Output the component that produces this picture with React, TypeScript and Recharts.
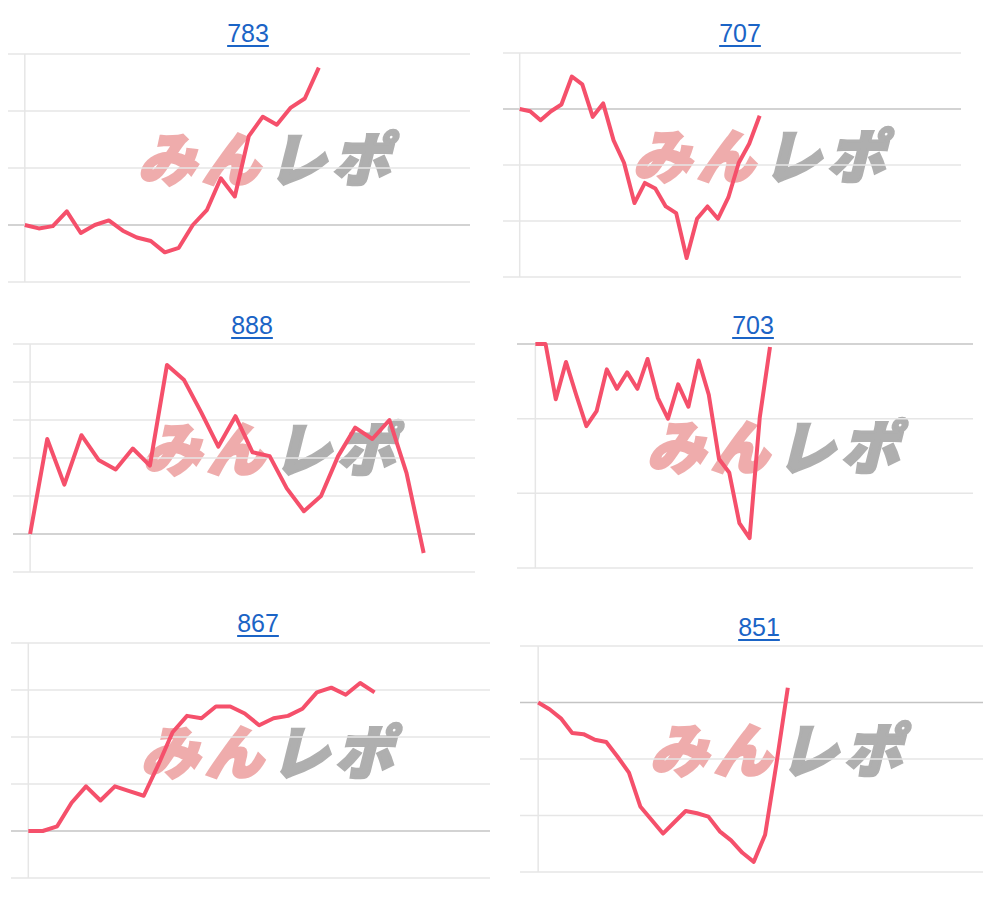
import React from 'react';
import { LineChart, XAxis, YAxis, Line, ReferenceLine } from 'recharts';

// change from the first day, in percent
const titles = ['783', '707', '888', '703', '867', '851'];

const series783 = [0, -0.3, -0.1, 1.2, -0.7, 0, 0.4, -0.5, -1.1, -1.4, -2.4, -2.0, 0, 1.3, 4.1, 2.5, 7.8, 9.5, 8.8, 10.3, 11.1, 13.8];
const series707 = [0, -0.2, -1.0, -0.2, 0.4, 2.9, 2.2, -0.7, 0.5, -2.8, -4.8, -8.4, -6.6, -7.1, -8.7, -9.3, -13.3, -9.8, -8.7, -9.8, -7.9, -4.8, -3.1, -0.6];
const series888 = [0, 5.0, 2.6, 5.2, 3.9, 3.4, 4.5, 3.6, 8.9, 8.1, 6.4, 4.6, 6.2, 4.3, 4.1, 2.4, 1.2, 2.0, 4.1, 5.6, 5.0, 6.0, 3.2, -1.0];
const series703 = [0, 0, -3.7, -1.2, -3.4, -5.5, -4.5, -1.7, -3.0, -1.9, -3.0, -1.0, -3.6, -5.0, -2.7, -4.2, -1.1, -3.4, -7.7, -8.6, -12.0, -13.0, -4.9, -0.2];
const series867 = [0, 0, 0.2, 1.2, 1.9, 1.3, 1.9, 1.7, 1.5, 2.8, 4.2, 4.9, 4.8, 5.3, 5.3, 5.0, 4.5, 4.8, 4.9, 5.2, 5.9, 6.1, 5.8, 6.3, 5.9];
const series851 = [0, -0.6, -1.4, -2.7, -2.8, -3.3, -3.5, -4.8, -6.2, -9.2, -10.4, -11.6, -10.6, -9.6, -9.8, -10.1, -11.4, -12.2, -13.3, -14.1, -11.7, -5.4, 1.3];

const ticks783 = [-5, 0, 5, 10, 15];
const ticks707 = [-15, -10, -5, 0, 5];
const ticks888 = [-2, 0, 2, 4, 6, 8, 10];
const ticks703 = [-15, -10, -5, 0];
const ticks867 = [-2, 0, 2, 4, 6, 8];
const ticks851 = [-15, -10, -5, 0, 5];

// days shown on each x axis (first point sits at 0)
const days783: [number, number] = [-1.2, 31.8];
const days707: [number, number] = [-1.6, 42.3];
const days888: [number, number] = [-1.0, 26.0];
const days703: [number, number] = [-1.8, 42.9];
const days867: [number, number] = [-1.2, 32.0];
const days851: [number, number] = [-1.6, 39.2];

const LINE = '#f5506b';
const GRID = '#e6e6e6';
const BASE = '#c4c4c4';
const PAD = 6;

type Box = { left: number; right: number; top: number; bottom: number };

const panels = [
  { title: titles[0], values: series783, ticks: ticks783, days: days783, box: { left: 8, right: 470, top: 54, bottom: 282 }, titleX: 248, titleY: 33 },
  { title: titles[1], values: series707, ticks: ticks707, days: days707, box: { left: 503, right: 961, top: 53, bottom: 277 }, titleX: 740, titleY: 33 },
  { title: titles[2], values: series888, ticks: ticks888, days: days888, box: { left: 13, right: 475, top: 344, bottom: 572 }, titleX: 252, titleY: 325 },
  { title: titles[3], values: series703, ticks: ticks703, days: days703, box: { left: 517, right: 973, top: 344, bottom: 568 }, titleX: 753, titleY: 325 },
  { title: titles[4], values: series867, ticks: ticks867, days: days867, box: { left: 11, right: 490, top: 643, bottom: 878 }, titleX: 258, titleY: 623 },
  { title: titles[5], values: series851, ticks: ticks851, days: days851, box: { left: 520, right: 983, top: 646, bottom: 872 }, titleX: 759, titleY: 627 },
];

// site logo stamped in the middle of every chart
const Logo = ({ box }: { box: Box }) => {
  const cy = (box.top + box.bottom) / 2 - 10;
  const glyph = {
    fontFamily: '"Noto Sans CJK JP", sans-serif',
    fontWeight: 900,
    fontSize: 58,
    lineHeight: 1,
    letterSpacing: 6,
    WebkitTextStrokeWidth: 3,
  } as const;
  return (
    <div
      style={{
        position: 'absolute',
        left: box.left + 136,
        top: cy - 31,
        whiteSpace: 'nowrap',
        transform: 'skewX(-14deg)',
        opacity: 0.55,
      }}
    >
      <span style={{ ...glyph, color: '#e26a6a', WebkitTextStrokeColor: '#e26a6a' }}>みん</span>
      <span style={{ ...glyph, color: '#6e6e6e', WebkitTextStrokeColor: '#6e6e6e', marginLeft: 2 }}>レポ</span>
    </div>
  );
};

const Panel = ({ title, values, ticks, days, box, titleX, titleY }: (typeof panels)[number]) => {
  const data = values.map((v, i) => ({ day: i, change: v }));
  const w = box.right - box.left + PAD * 2;
  const h = box.bottom - box.top + PAD * 2;
  return (
    <>
      <span
        style={{
          position: 'absolute',
          left: titleX,
          top: titleY - 15,
          transform: 'translateX(-50%)',
          fontSize: 25,
          lineHeight: '30px',
          color: '#1b64c6',
          textDecoration: 'underline',
          textUnderlineOffset: 3,
        }}
      >
        {title}
      </span>
      <Logo box={box} />
      <div style={{ position: 'absolute', left: box.left - PAD, top: box.top - PAD }}>
        <LineChart width={w} height={h} data={data} margin={{ top: PAD, right: PAD, bottom: PAD, left: PAD }}>
          <XAxis dataKey="day" type="number" domain={days} hide />
          <YAxis type="number" domain={[ticks[0], ticks[ticks.length - 1]]} ticks={ticks} hide />
          {ticks.map((t) => (
            <ReferenceLine key={t} y={t} stroke={t === 0 ? BASE : GRID} strokeWidth={1.5} />
          ))}
          <ReferenceLine x={0} stroke={GRID} strokeWidth={1.5} />
          <Line
            dataKey="change"
            type="linear"
            stroke={LINE}
            strokeWidth={4}
            strokeLinejoin="round"
            dot={false}
            activeDot={false}
            isAnimationActive={false}
          />
        </LineChart>
      </div>
    </>
  );
};

export default function App() {
  return (
    <div
      style={{
        position: 'absolute',
        left: 0,
        top: 0,
        width: 1000,
        height: 900,
        background: '#fff',
        fontFamily: '"Liberation Sans", Arial, sans-serif',
      }}
    >
      {panels.map((p) => (
        <Panel key={p.title} {...p} />
      ))}
    </div>
  );
}
